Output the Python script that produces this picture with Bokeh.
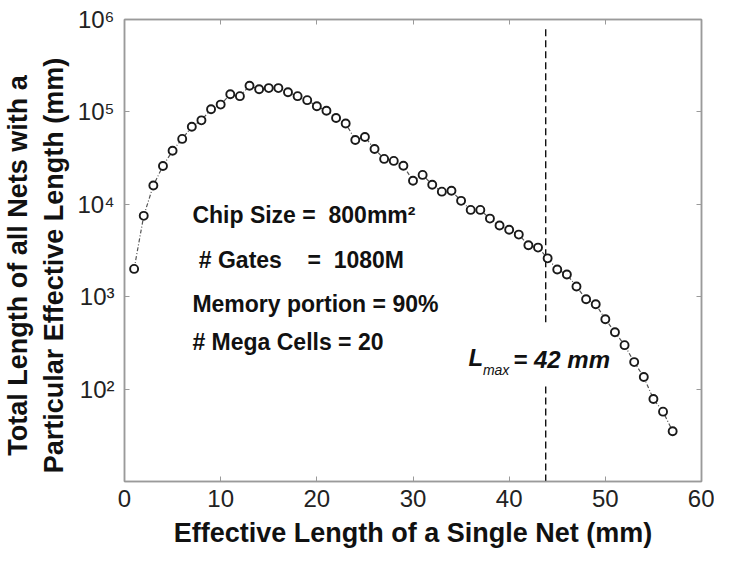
from bokeh.plotting import figure
from bokeh.models import Range1d, FixedTicker, LogAxis, LinearAxis, Label
from bokeh.embed import file_html
from bokeh.resources import INLINE

# ---- data ----
net_length_mm = list(range(1, 58))
total_length_mm = [2000, 7500, 16000, 26000, 38000, 51000, 69000, 81000, 107000, 120000,
                   155000, 148000, 192000, 176000, 181000, 181000, 163000, 148000, 134000, 115000,
                   103000, 86000, 75000, 49700, 53500, 39700, 31000, 29500, 26100, 18000,
                   20800, 16300, 13700, 14000, 10900, 8700, 8700, 7000, 5900, 5300,
                   4700, 3600, 3400, 2600, 1970, 1740, 1290, 940, 830, 570,
                   413, 299, 196, 135, 78, 57, 35]

x_ticks = [0, 10, 20, 30, 40, 50, 60]
y_ticks = [1e2, 1e3, 1e4, 1e5, 1e6]
y_tick_labels = ["10\u00b2", "10\u00b3", "10\u2074", "10\u2075", "10\u2076"]

lmax_x = [43.8, 43.8]
lmax_low = [10, 114]
lmax_high = [530, 8e5]

info_lines = ["Chip Size =\u00a0 800mm\u00b2",
              "\u00a0# Gates\u00a0\u00a0\u00a0 =\u00a0 1080M",
              "Memory portion = 90%",
              "# Mega Cells = 20"]
info_y = [7727, 2466, 828, 323]
info_x = 7.06

FONT = "Liberation Sans"
AXIS_GRAY = "#9a9a9a"
PAD = "\u00a0\u00a0\u00a0\u00a0"

p = figure(width=714, height=561, x_range=Range1d(0, 60), y_range=Range1d(10, 1e6),
           y_axis_type="log", output_backend="svg", toolbar_location=None,
           min_border_left=115, min_border_right=13, min_border_top=19, min_border_bottom=80)
p.grid.visible = False
p.outline_line_color = AXIS_GRAY
p.outline_line_width = 1.5
p.background_fill_color = "white"
p.border_fill_color = "white"

# x axis
xa = p.xaxis[0]
xa.ticker = FixedTicker(ticks=x_ticks)
xa.major_tick_in = 5
xa.major_tick_out = 0
xa.minor_tick_line_color = None
xa.axis_line_color = AXIS_GRAY
xa.axis_line_width = 1.5
xa.major_tick_line_color = AXIS_GRAY
xa.major_label_text_font = FONT
xa.major_label_text_font_size = "24px"
xa.major_label_text_color = "#222222"
xa.major_label_standoff = 8
xa.axis_label = "Effective Length of a Single Net (mm)"
xa.axis_label_text_font = FONT
xa.axis_label_text_font_style = "bold"
xa.axis_label_text_font_size = "27px"
xa.axis_label_text_color = "#111111"
xa.axis_label_standoff = 8

# y axis
ya = p.yaxis[0]
ya.ticker = FixedTicker(ticks=y_ticks)
ya.major_label_overrides = {t: s for t, s in zip(y_ticks, y_tick_labels)}
ya.major_tick_in = 5
ya.major_tick_out = 0
ya.minor_tick_line_color = None
ya.axis_line_color = AXIS_GRAY
ya.axis_line_width = 1.5
ya.major_tick_line_color = AXIS_GRAY
ya.major_label_text_font = FONT
ya.major_label_text_font_size = "24px"
ya.major_label_text_color = "#222222"
ya.major_label_standoff = 10
ya.axis_label = ("Total Length of all Nets with a" + PAD + "\n"
                 "Particular Effective Length (mm)" + PAD)
ya.axis_label_text_font = FONT
ya.axis_label_text_font_style = "bold"
ya.axis_label_text_font_size = "27px"
ya.axis_label_text_color = "#111111"
ya.axis_label_standoff = 5

# box ticks on right and top (no labels)
ra = LogAxis(ticker=FixedTicker(ticks=y_ticks), major_tick_in=5, major_tick_out=0,
             minor_tick_line_color=None, axis_line_color=AXIS_GRAY, axis_line_width=1.5,
             major_tick_line_color=AXIS_GRAY, major_label_text_font_size="10px",
             major_label_overrides={t: "" for t in y_ticks}, major_label_standoff=0)
p.add_layout(ra, "right")
ta = LinearAxis(ticker=FixedTicker(ticks=x_ticks), major_tick_in=5, major_tick_out=0,
                minor_tick_line_color=None, axis_line_color=AXIS_GRAY, axis_line_width=1.5,
                major_tick_line_color=AXIS_GRAY, major_label_text_font_size="10px",
                major_label_overrides={t: "" for t in x_ticks}, major_label_standoff=0)
p.add_layout(ta, "above")

# L_max dashed line
p.line(lmax_x, lmax_low, line_color="#111111", line_width=1.4, line_dash="7 4")
p.line(lmax_x, lmax_high, line_color="#111111", line_width=1.4, line_dash="7 4")

# data
p.line(net_length_mm, total_length_mm, line_color="#555555", line_width=1.2, line_dash="4 2 1 2")
p.scatter(net_length_mm, total_length_mm, marker="circle", size=8, line_color="#1a1a1a",
          line_width=1.9, fill_color="white")

# info text
for txt, yv in zip(info_lines, info_y):
    p.add_layout(Label(x=info_x, y=yv, text=txt, text_font=FONT, text_font_style="bold",
                       text_font_size="23px", text_baseline="middle", text_align="left",
                       text_color="#111111"))

# L_max label
p.add_layout(Label(x=37.3, y=222, text="L", text_font=FONT, text_font_style="bold italic",
                   text_font_size="24px", text_baseline="middle", text_align="right",
                   text_color="#111111"))
p.add_layout(Label(x=40.02, y=161, text="max", text_font=FONT, text_font_style="italic",
                   text_font_size="14px", text_baseline="middle", text_align="right",
                   text_color="#111111"))
p.add_layout(Label(x=40.43, y=211, text="= 42 mm", text_font=FONT, text_font_style="bold italic",
                   text_font_size="24px", text_baseline="middle", text_align="left",
                   text_color="#111111"))

open("out.html", "w").write(file_html(p, INLINE))
